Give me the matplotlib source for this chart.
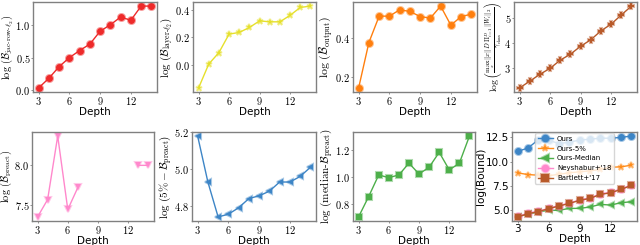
import numpy as np
import matplotlib
matplotlib.use("Agg")
import matplotlib.pyplot as plt
from matplotlib.ticker import MultipleLocator, StrMethodFormatter

depth = [3, 4, 5, 6, 7, 8, 9, 10, 11, 12, 13, 14]

jac_row = [0.03, 0.18, 0.36, 0.50, 0.61, 0.71, 0.91, 1.01, 1.13, 1.08, 1.30, 1.30]
layer_l2 = [-0.166, 0.007, 0.09, 0.224, 0.236, 0.272, 0.32, 0.313, 0.313, 0.36, 0.417, 0.427]
output = [0.146, 0.376, 0.51, 0.51, 0.542, 0.534, 0.508, 0.50, 0.561, 0.464, 0.508, 0.52]
spectral = [2.18, 2.45, 2.73, 2.97, 3.30, 3.54, 3.86, 4.12, 4.48, 4.75, 5.12, 5.48]
preact = [7.357, 7.574, 8.365, 7.45, 7.725, np.nan, np.nan, np.nan, np.nan, np.nan, 8.0, 8.0]
preact_5 = [5.18, 4.93, 4.74, 4.755, 4.79, 4.84, 4.855, 4.88, 4.93, 4.93, 4.96, 5.01]
preact_med = [0.703, 0.853, 1.013, 0.993, 1.013, 1.10, 1.02, 1.07, 1.18, 1.05, 1.10, 1.30]

bound_ours = [11.05, 11.39, 12.24, 12.2, 11.84, 12.0, 12.2, 12.3, 12.4, 12.4, 12.48, 12.62]
bound_5 = [8.84, 8.67, 8.60, 8.55, 8.70, 8.85, 8.95, 9.05, 9.20, 9.42, 9.46, 9.63]
bound_med = [4.35, 4.6, 4.85, 5.0, 5.0, 5.2, 5.2, 5.34, 5.61, 5.54, 5.78, 5.88]
bound_ney = [4.37, 4.70, 4.90, 5.21, 5.48, 5.75, 6.06, 6.27, 6.68, 6.85, 7.20, 7.60]
bound_bart = [4.32, 4.66, 4.86, 5.17, 5.44, 5.71, 6.02, 6.22, 6.63, 6.80, 7.14, 7.55]
bound_labels = ["Ours", "Ours-5%", "Ours-Median", "Neyshabur+'18", "Bartlett+'17"]

plt.rcParams["mathtext.fontset"] = "cm"

fig = plt.figure(figsize=(6.4, 2.45), dpi=100)
W, H = 640, 245

def make_ax(x0, x1, y0, y1):
    return fig.add_axes([x0 / W, 1 - y1 / H, (x1 - x0) / W, (y1 - y0) / H])

def style(ax, step, fmt, cm=True):
    for s in ax.spines.values():
        s.set_color("#808080")
        s.set_linewidth(1.0)
    ax.xaxis.set_major_locator(MultipleLocator(3))
    ax.yaxis.set_major_locator(MultipleLocator(step))
    if cm:
        ax.xaxis.set_major_formatter(StrMethodFormatter("${x:.0f}$"))
        ax.yaxis.set_major_formatter(StrMethodFormatter("${x:" + fmt + "}$"))
    ax.tick_params(labelsize=7.5, length=1.5, width=0.6, color="#808080", pad=0.5)
    ax.set_xlabel("Depth", fontsize=7.5, labelpad=0)

panels = [
    ((33, 157, 2, 92), jac_row, "#ee2a2a", "o", 0.5, ".1f", 7.5,
     r"$\log\,(\mathcal{B}_{\mathrm{jac\text{-}row\text{-}}\ell_2})$"),
    ((193, 316, 2, 92), layer_l2, "#e6e02c", "*", 0.2, ".1f", 8,
     r"$\log\,(\mathcal{B}_{\mathrm{layer\text{-}}\ell_2})$"),
    ((353, 477, 2, 92), output, "#ff7f0e", "o", 0.2, ".1f", 8.5,
     r"$\log\,(\mathcal{B}_{\mathrm{output}})$"),
    ((514, 637, 2, 92), spectral, "#b85a2a", "P", 1, ".0f", 7,
     r"$\log\left(\frac{\max_x\|x\|\,D\,\Pi_{i=1}^{D}\|W_i\|_2}{\gamma_{\mathrm{class}}}\right)$"),
    ((32, 154, 132, 221), preact, "#ff88cc", "v", 0.5, ".1f", 7.5,
     r"$\log\,(\mathcal{B}_{\mathrm{preact}})$"),
    ((192, 316, 132, 221), preact_5, "#3d85c6", "<", 0.2, ".1f", 8,
     r"$\log\,(5\%-\mathcal{B}_{\mathrm{preact}})$"),
    ((353, 475, 132, 221), preact_med, "#4daf4a", "s", 0.2, ".1f", 8,
     r"$\log\,(\mathrm{median\text{-}}\mathcal{B}_{\mathrm{preact}})$"),
]

for pos, vals, col, mk, step, fmt, fs, lab in panels:
    ax = make_ax(*pos)
    ax.plot(depth, vals, color=col, lw=1.0, marker=mk, ms=5,
            mec=matplotlib.colors.to_rgba(col, 0.45), mew=1.5)
    style(ax, step, fmt)
    ax.set_ylabel(lab, fontsize=fs, labelpad=0)

# combined bounds
ax = make_ax(512, 637, 132, 221)
series = [
    (bound_ours, "#3d85c6", "o"),
    (bound_5, "#ff8c1a", "*"),
    (bound_med, "#4daf4a", "<"),
    (bound_ney, "#ff88cc", "o"),
    (bound_bart, "#b85a2a", "s"),
]
for (vals, col, mk), lab in zip(series, bound_labels):
    ax.plot(depth, vals, color=col, lw=1.0, marker=mk, ms=5,
            mec=matplotlib.colors.to_rgba(col, 0.45), mew=1.5, label=lab)
style(ax, 2.5, ".1f", cm=False)
ax.yaxis.set_major_formatter(StrMethodFormatter("{x:.1f}"))
ax.set_ylabel("log(Bound)", fontsize=7.5, labelpad=0)
ax.legend(loc="upper center", fontsize=5, framealpha=0.8, borderpad=0.35,
          labelspacing=0.55, handlelength=2.2, handletextpad=0.6,
          edgecolor="#cccccc", borderaxespad=0.2, markerscale=1.1)

fig.savefig("out.png", dpi=100)
